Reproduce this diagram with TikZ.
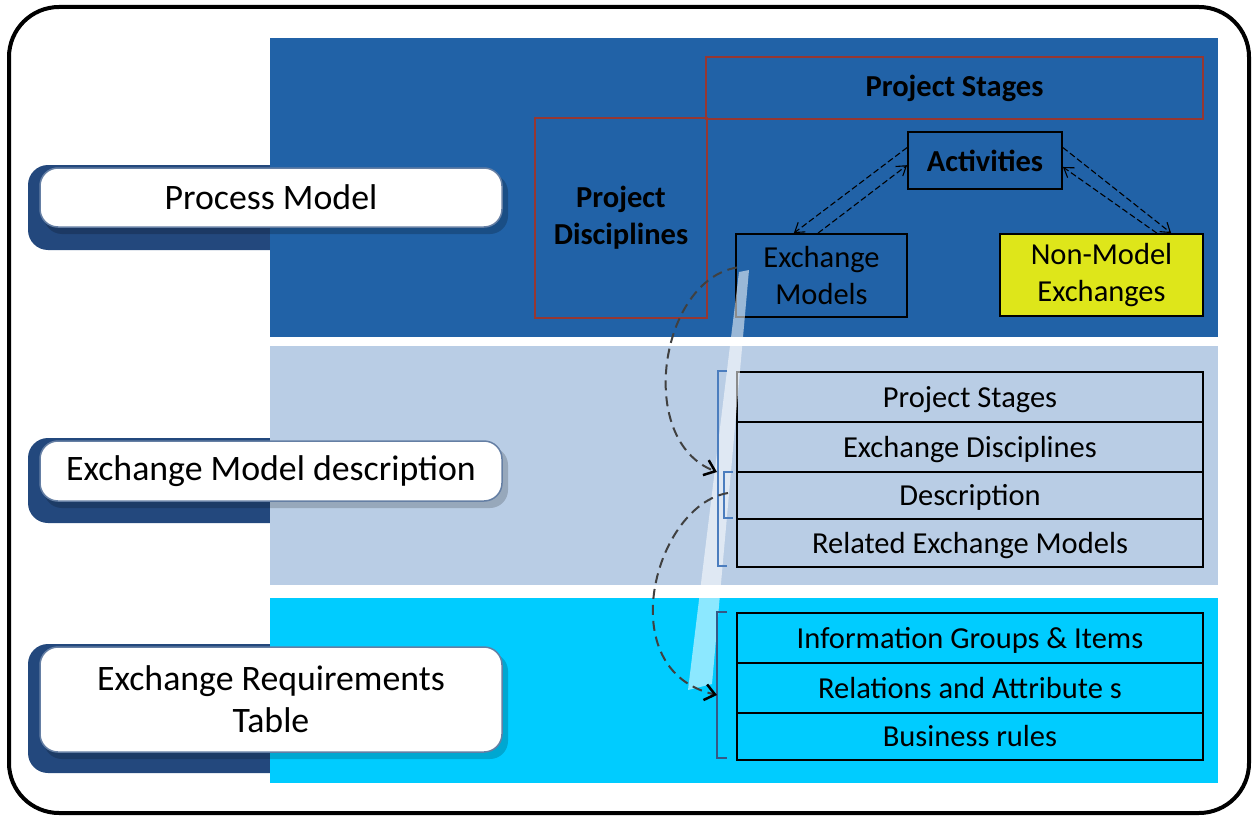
\documentclass[tikz,border=0pt]{standalone}
\usepackage{fontspec}
\setmainfont{Carlito}
\usepackage{tikz}
\usetikzlibrary{positioning}
\usetikzlibrary{arrows.meta}
\usetikzlibrary{calc}
\usepackage{xcolor}

\definecolor{pmblue}{RGB}{33,98,167}
\definecolor{emgrey}{RGB}{185,205,229}
\definecolor{ercyan}{RGB}{0,204,255}
\definecolor{bevel}{RGB}{35,72,125}
\definecolor{stagered}{RGB}{150,55,50}
\definecolor{nmyellow}{RGB}{222,230,26}
\definecolor{brackblue}{RGB}{75,125,190}

\newcommand{\rowfont}{\fontsize{30.5}{37}\selectfont}
\newcommand{\labfont}{\fontsize{35.8}{42}\selectfont}

\tikzset{
  labelbox/.style={draw=bevel!70!white, line width=1.5pt, fill=white, rounded corners=18pt, minimum width=462pt, inner sep=0pt, font=\labfont, align=center},
  rowbox/.style={draw=black, line width=1.3pt, minimum width=466pt, inner sep=0pt, font=\rowfont, text height=23pt, text depth=3pt},
  pmbox/.style={draw=black, line width=1.8pt, inner sep=0pt, font=\rowfont, align=center},
  redbox/.style={draw=stagered, line width=1.8pt, inner sep=0pt, font=\rowfont\bfseries, align=center},
  dasharrow/.style={dash pattern=on 6pt off 3pt, line width=1.1pt, -{Straight Barb[length=9pt,width=12pt]}},
  curvearrow/.style={draw=black!75, dash pattern=on 10pt off 6pt, line width=2pt, -{Straight Barb[length=10pt,width=16pt,line width=2.5pt,color=black]}},
  brack/.style={draw=brackblue, line width=2.2pt},
}

\begin{document}
\begin{tikzpicture}[x=1pt,y=-1pt]
\useasboundingbox (0,0) rectangle (1253,816);

\draw[line width=4pt, rounded corners=50pt] (9,7) rectangle (1249,813);

\fill[bevel, rounded corners=20pt] (28,165) rectangle (320,250);
\fill[bevel, rounded corners=20pt] (28,438) rectangle (320,523);
\fill[bevel, rounded corners=20pt] (28,644) rectangle (320,773);

\fill[pmblue] (270,38) rectangle (1218,337);
\fill[emgrey] (270,346) rectangle (1218,585);
\fill[ercyan] (270,598) rectangle (1218,783);

\fill[black, opacity=0.2, rounded corners=18pt] (44,174) rectangle (508,234);
\fill[black, opacity=0.18, rounded corners=18pt] (44,447) rectangle (508,508);
\fill[black, opacity=0.18, rounded corners=18pt] (44,653) rectangle (508,759);

\node[labelbox, minimum height=59pt] (pm) at (271,197.5) {Process Model};
\node[labelbox, minimum height=60pt] (emd) at (271,471) {Exchange Model description};
\node[labelbox, minimum height=105pt] (ert) at (271,699.5) {Exchange Requirements\\Table};

\node[redbox, minimum width=497pt, minimum height=62pt] (stages) at (954.5,88) {Project Stages};
\node[redbox, minimum width=172pt, minimum height=200pt] (disc) at (621,218) {Project\\Disciplines};

\node[pmbox, minimum width=154pt, minimum height=57pt, font=\rowfont\bfseries] (act) at (985,160.5) {Activities};
\node[pmbox, minimum width=171pt, minimum height=83pt] (em) at (821.5,275.5) {Exchange\\Models};
\node[pmbox, fill=nmyellow, minimum width=203pt, minimum height=82pt] (nm) at (1101.5,275) {Non-Model\\Exchanges};

\draw[dasharrow] ($(act.north west)!0.28!(act.south west)$) -- ($(em.north west)!0.34!(em.north east)$);
\draw[dasharrow] ($(em.north west)!0.48!(em.north east)$) -- ($(act.north west)!0.58!(act.south west)$);
\draw[dasharrow] ($(act.north east)!0.28!(act.south east)$) -- ($(nm.north west)!0.84!(nm.north east)$);
\draw[dasharrow] ($(nm.north west)!0.77!(nm.north east)$) -- ($(act.north east)!0.61!(act.south east)$);

\node[rowbox, minimum height=50pt] (r1) at (970,397) {Project Stages};
\node[rowbox, minimum height=50pt] (r2) at (970,447) {Exchange Disciplines};
\node[rowbox, minimum height=47pt] (r3) at (970,495.5) {Description};
\node[rowbox, minimum height=48pt] (r4) at (970,543) {Related Exchange Models};

\node[rowbox, minimum height=50pt] (i1) at (970,638) {Information Groups \& Items};
\node[rowbox, minimum height=50pt] (i2) at (970,688) {Relations and Attribute s};
\node[rowbox, minimum height=47pt] (i3) at (970,736.5) {Business rules};

\fill[white, opacity=0.55] (739,272) -- (749,270) -- (712,684) -- (688,690) -- cycle;

\draw[brack] (727,371) -- (718,371) -- (718,566) -- (727,566);
\draw[brack] (733,472) -- (724,472) -- (724,518) -- (733,518);
\draw[brack, draw=brackblue!70!black] (727,612) -- (717,612) -- (717,758) -- (727,758);

\coordinate (tabA) at (717,472);
\coordinate (desc) at (728,493);
\coordinate (tabB) at (717,695);

\draw[curvearrow] ([shift={(2,-8)}]em.west) .. controls (660,280) and (635,440) .. (tabA);
\draw[curvearrow] (desc) .. controls (655,505) and (610,670) .. (tabB);

\end{tikzpicture}
\end{document}
